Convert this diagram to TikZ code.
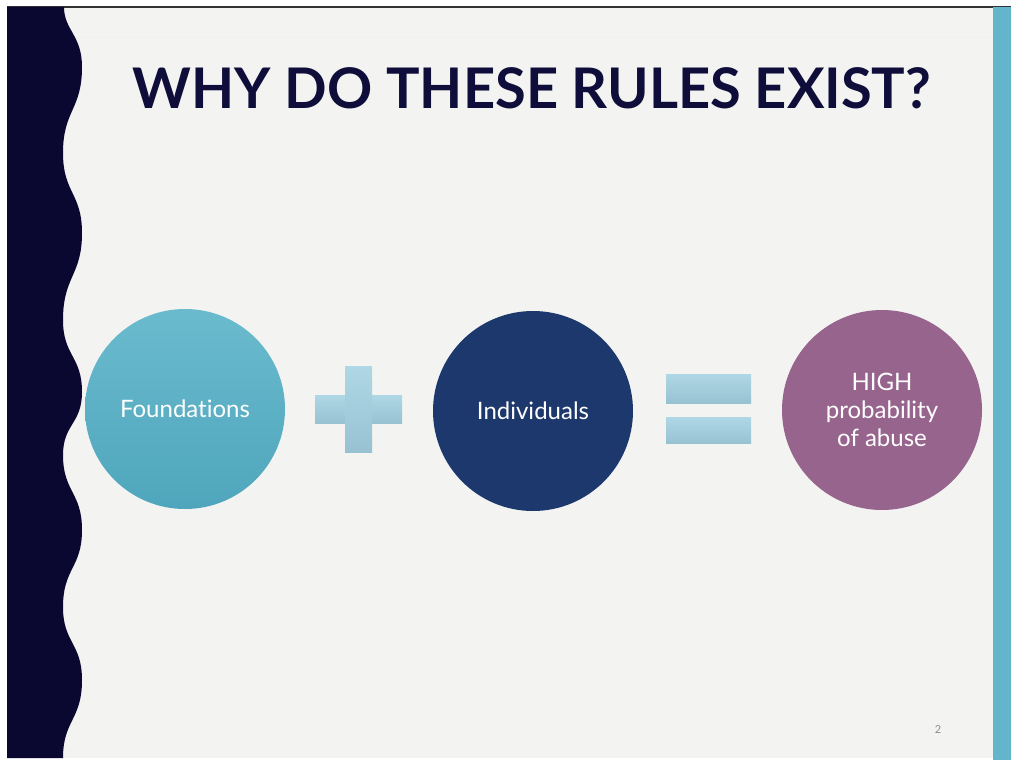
\documentclass[tikz,border=0pt]{standalone}
\usepackage{fontspec}
\setmainfont{Lato}[Ligatures=NoCommon]
\definecolor{bg}{HTML}{F3F3F1}
\definecolor{band}{HTML}{0A0830}
\definecolor{tealbar}{HTML}{62B5CB}
\definecolor{teal}{HTML}{5AB3C8}
\definecolor{tealdk}{HTML}{4FA6BC}
\definecolor{navy}{HTML}{1C386C}
\definecolor{plum}{HTML}{97648D}
\definecolor{lblue}{HTML}{AFD7E6}
\definecolor{lbluedk}{HTML}{98C2D2}
\definecolor{titlec}{HTML}{0F0D3A}
\tikzset{
  circ/.style={circle, minimum size=200pt, inner sep=0pt, text=white, align=center,
    font=\fontsize{24}{28}\selectfont},
  bar/.style={rectangle, inner sep=0pt, draw=none, top color=lblue, bottom color=lbluedk}
}
\begin{document}
\begin{tikzpicture}[x=1pt,y=-1pt]
\useasboundingbox (0,0) rectangle (1011,760);
\fill[white] (0,0) rectangle (1011,760);
% slide background
\fill[bg] (7,7) rectangle (1011,758);
\draw[black!80, line width=1.2pt] (7,7) -- (1011,7);
\draw[black!6, line width=0.6pt] (60,37) -- (993,37);
% right teal bar
\fill[tealbar] (993,7) rectangle (1011,760);
% left wavy band
\fill[band] (7,7) -- (64,7)
  .. controls (64,30) and (82,35) .. (82,67)
  .. controls (82,110) and (63,110) .. (63,153)
  .. controls (63,193) and (82,193) .. (82,233)
  .. controls (82,276) and (63,276) .. (63,320)
  .. controls (63,356) and (82,356) .. (82,392)
  .. controls (82,424) and (63,424) .. (63,455)
  .. controls (63,492) and (82,492) .. (82,530)
  .. controls (82,568) and (63,568) .. (63,607)
  .. controls (63,643) and (82,643) .. (82,680)
  .. controls (82,720) and (63,720) .. (63,758)
  -- (7,758) -- cycle;
% title
\node[text=titlec, font=\fontsize{56}{62}\bfseries\selectfont, anchor=base] (title) at (532,108) {WHY DO THESE RULES EXIST?};
% circles
\node[circ, top color=teal!90!white, bottom color=tealdk] (f) at (185,409) {Foundations};
\node[circ, fill=navy] (i) at (533,411) {Individuals};
\node[circ, fill=plum] (h) at (882,410) {HIGH\\probability\\of abuse};
% plus
\node[bar, minimum width=87pt, minimum height=28pt] (plush) at (358.5,409) {};
\node[bar, minimum width=27pt, minimum height=86pt] (plusv) at (358.5,409) {};
% equals
\node[bar, minimum width=85pt, minimum height=29pt] (eq1) at (708.5,388.5) {};
\node[bar, minimum width=85pt, minimum height=26pt] (eq2) at (708.5,430) {};
% page number
\node[text=black!45, font=\fontsize{11}{13}\selectfont] (pg) at (938,730) {2};
\end{tikzpicture}
\end{document}
